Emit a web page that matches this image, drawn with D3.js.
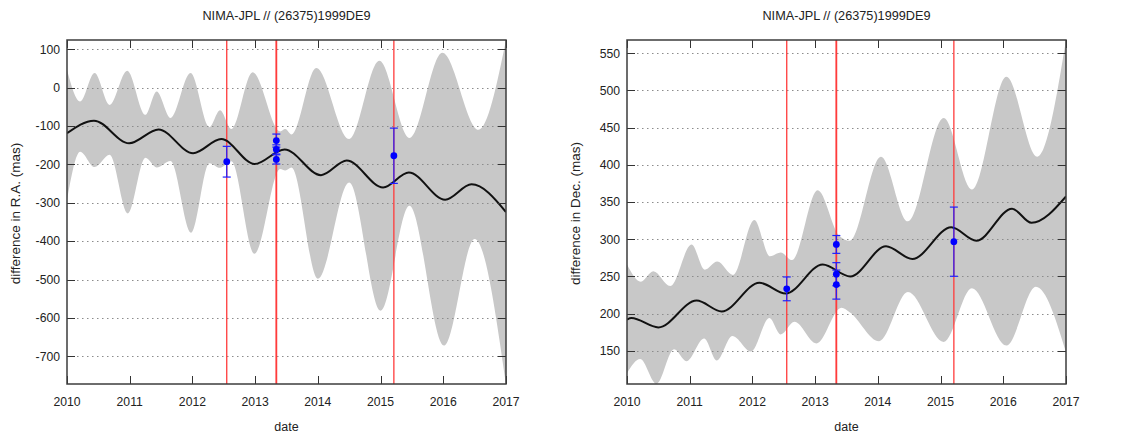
<!DOCTYPE html>
<html>
<head>
<meta charset="utf-8">
<script src="https://cdn.jsdelivr.net/npm/d3@7"></script>
<style>
  html, body { margin: 0; padding: 0; background: #fff; }
  svg { display: block; }
  text { font-family: "Liberation Sans", Arial, sans-serif; fill: #222; }
</style>
</head>
<body>
<svg id="chart" width="1121" height="434"></svg>
<script>
// ---- data -------------------------------------------------------------
const titleText = "NIMA-JPL // (26375)1999DE9";
const yearTicks = [2010, 2011, 2012, 2013, 2014, 2015, 2016, 2017];
const raTicks = [-700, -600, -500, -400, -300, -200, -100, 0, 100];
const decTicks = [150, 200, 250, 300, 350, 400, 450, 500, 550];

// observation epochs marked by vertical lines
const epochLines = [2012.547, 2013.334, 2013.342, 2015.212];

// predicted offset (JPL - NIMA) in R.A., mas: [date, value]
const raCurve = [
  [2010.00, -119], [2010.43, -86], [2010.99, -145], [2011.46, -109],
  [2012.01, -171], [2012.46, -134], [2012.99, -199], [2013.47, -161],
  [2014.05, -228], [2014.46, -190], [2015.04, -260], [2015.45, -221],
  [2016.03, -292], [2016.45, -252], [2017.00, -324]
];
// uncertainty envelope in R.A.
const raUpper = [
  [2010.00, 46], [2010.21, -36], [2010.44, 38], [2010.68, -45],
  [2010.96, 44], [2011.25, -71], [2011.43, -10], [2011.65, -79],
  [2011.97, 38], [2012.27, -103], [2012.44, -59], [2012.62, -108],
  [2012.96, 40], [2013.40, -114], [2013.48, -108], [2013.58, -122],
  [2013.975, 51], [2014.50, -134], [2014.98, 70], [2015.46, -131],
  [2015.985, 91], [2016.56, -110], [2017.00, 124]
];
const raLower = [
  [2010.00, -293], [2010.21, -167], [2010.44, -207], [2010.68, -175],
  [2010.97, -328], [2011.25, -183], [2011.43, -208], [2011.65, -191],
  [2011.98, -378], [2012.27, -197], [2012.44, -209], [2012.62, -192],
  [2012.99, -433], [2013.40, -212], [2013.48, -216], [2013.58, -208],
  [2014.00, -498], [2014.50, -247], [2015.00, -581], [2015.46, -308],
  [2016.01, -672], [2016.50, -394], [2017.00, -772]
];

// predicted offset in Dec., mas
const decCurve = [
  [2010.00, 192], [2010.07, 194], [2010.50, 181.5], [2011.11, 217.5],
  [2011.51, 203], [2012.11, 241.5], [2012.53, 227], [2013.12, 266],
  [2013.56, 250], [2014.13, 290.5], [2014.55, 273.5], [2015.17, 316],
  [2015.57, 298], [2016.14, 341], [2016.45, 322], [2017.00, 357.5]
];
const decUpper = [
  [2010.00, 266], [2010.22, 243], [2010.42, 257], [2010.69, 237],
  [2011.03, 293], [2011.24, 259], [2011.44, 270], [2011.69, 252],
  [2012.03, 326], [2012.28, 277], [2012.45, 282], [2012.63, 272],
  [2013.04, 366], [2013.38, 305], [2013.55, 298], [2014.05, 411],
  [2014.48, 324], [2015.05, 463], [2015.50, 367], [2016.05, 518.5],
  [2016.54, 411], [2017.00, 567.8]
];
const decLower = [
  [2010.00, 120], [2010.21, 139], [2010.47, 105.5], [2010.75, 152],
  [2010.95, 136], [2011.23, 166.5], [2011.43, 137], [2011.68, 170],
  [2011.98, 149], [2012.27, 194], [2012.45, 172], [2012.67, 189],
  [2013.02, 160], [2013.42, 208], [2013.55, 202], [2014.02, 163],
  [2014.48, 229], [2015.05, 162], [2015.50, 234], [2016.05, 157],
  [2016.52, 236], [2017.00, 148]
];

// measured positions with error bars
const obsDates = [2012.547, 2013.338, 2013.338, 2013.338, 2015.212];
const obsRA = [-193, -138, -161, -187, -177.5];
const errRA = [40, 17, 12, 12, 72];
const obsDec = [233.3, 293, 253, 239, 296.7];
const errDec = [16, 12, 15.5, 19.5, 46.5];

// ---- drawing ----------------------------------------------------------
const svg = d3.select("#chart");
const plotTop = 40, plotBottom = 384;

const panels = [
  { id: "ra", x0: 67, x1: 506, yDomain: [-772, 124], ticks: raTicks,
    ylabel: "difference in R.A. (mas)", labelX: 20,
    curve: raCurve, upper: raUpper, lower: raLower, obs: obsRA, err: errRA },
  { id: "dec", x0: 627, x1: 1066, yDomain: [105.4, 567.8], ticks: decTicks,
    ylabel: "difference in Dec. (mas)", labelX: 580,
    curve: decCurve, upper: decUpper, lower: decLower, obs: obsDec, err: errDec }
];

panels.forEach(p => {
  const x = d3.scaleLinear().domain([2010, 2017]).range([p.x0, p.x1]);
  const y = d3.scaleLinear().domain(p.yDomain).range([plotBottom, plotTop]);
  const g = svg.append("g");

  g.append("clipPath").attr("id", "clip-" + p.id)
    .append("rect").attr("x", p.x0).attr("y", plotTop)
    .attr("width", p.x1 - p.x0).attr("height", plotBottom - plotTop);
  const plot = g.append("g").attr("clip-path", `url(#clip-${p.id})`);

  const line = d3.line().x(d => x(d[0])).y(d => y(d[1])).curve(d3.curveMonotoneX);

  // shaded envelope: upper edge forward, lower edge back
  const upPath = line(p.upper);
  const lowPath = line(p.lower.slice().reverse()).replace(/^M/, "L");
  plot.append("path").attr("d", upPath + lowPath + "Z")
    .attr("fill", "#c8c8c8").attr("stroke", "none");

  // dotted horizontal grid
  plot.selectAll(".grid").data(p.ticks).join("line")
    .attr("x1", p.x0).attr("x2", p.x1)
    .attr("y1", d => Math.round(y(d)) + 0.5).attr("y2", d => Math.round(y(d)) + 0.5)
    .attr("stroke", "#8c8c8c").attr("stroke-width", 1)
    .attr("stroke-dasharray", "1.5,3.5");

  // epoch markers
  plot.selectAll(".epoch").data(epochLines).join("line")
    .attr("x1", d => x(d)).attr("x2", d => x(d))
    .attr("y1", plotTop).attr("y2", plotBottom)
    .attr("stroke", "#ff3b3b").attr("stroke-width", 1.3);

  // predicted curve
  plot.append("path").attr("d", line(p.curve))
    .attr("fill", "none").attr("stroke", "#111").attr("stroke-width", 2);

  // observations
  const obs = obsDates.map((t, i) => ({ t, v: p.obs[i], e: p.err[i] }));
  const eb = plot.append("g").attr("stroke", "#1f1fff").attr("stroke-width", 1.2);
  obs.forEach(o => {
    const cx = x(o.t), yt = y(o.v + o.e), yb = y(o.v - o.e);
    eb.append("line").attr("x1", cx).attr("x2", cx).attr("y1", yt).attr("y2", yb);
    eb.append("line").attr("x1", cx - 4).attr("x2", cx + 4).attr("y1", yt).attr("y2", yt);
    eb.append("line").attr("x1", cx - 4).attr("x2", cx + 4).attr("y1", yb).attr("y2", yb);
  });
  plot.selectAll(".pt").data(obs).join("circle")
    .attr("cx", d => x(d.t)).attr("cy", d => y(d.v)).attr("r", 3.4)
    .attr("fill", "#0000ff");

  // inward ticks on all four sides
  const tk = g.append("g").attr("stroke", "#333").attr("stroke-width", 1);
  p.ticks.forEach(v => {
    const yy = Math.round(y(v)) + 0.5;
    tk.append("line").attr("x1", p.x0).attr("x2", p.x0 + 8).attr("y1", yy).attr("y2", yy);
    tk.append("line").attr("x1", p.x1 - 8).attr("x2", p.x1).attr("y1", yy).attr("y2", yy);
  });
  yearTicks.forEach(t => {
    const xx = Math.round(x(t)) + 0.5;
    tk.append("line").attr("x1", xx).attr("x2", xx).attr("y1", plotTop).attr("y2", plotTop + 8);
    tk.append("line").attr("x1", xx).attr("x2", xx).attr("y1", plotBottom - 8).attr("y2", plotBottom);
  });

  // frame
  g.append("rect").attr("x", p.x0).attr("y", plotTop)
    .attr("width", p.x1 - p.x0).attr("height", plotBottom - plotTop)
    .attr("fill", "none").attr("stroke", "#3c3c3c").attr("stroke-width", 1.5);

  // tick labels
  g.selectAll(".ylab").data(p.ticks).join("text")
    .attr("x", p.x0 - 7).attr("y", d => y(d) + 4.3)
    .attr("text-anchor", "end").attr("font-size", 12.2)
    .text(d => d);
  g.selectAll(".xlab").data(yearTicks).join("text")
    .attr("x", d => x(d)).attr("y", 406)
    .attr("text-anchor", "middle").attr("font-size", 12.2)
    .text(d => d);

  // titles
  const cx = (p.x0 + p.x1) / 2;
  g.append("text").attr("x", cx).attr("y", 19.5)
    .attr("text-anchor", "middle").attr("font-size", 12.7).text(titleText);
  g.append("text").attr("x", cx).attr("y", 431)
    .attr("text-anchor", "middle").attr("font-size", 12.5).text("date");
  g.append("text")
    .attr("transform", `translate(${p.labelX},${(plotTop + plotBottom) / 2 + 1.5}) rotate(-90)`)
    .attr("text-anchor", "middle").attr("font-size", 13.5).text(p.ylabel);
});
</script>
</body>
</html>
